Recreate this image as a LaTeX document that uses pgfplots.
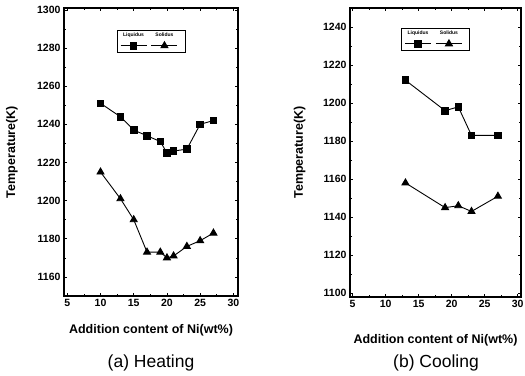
\documentclass[border=0pt]{standalone}
\usepackage{pgfplots}
\pgfplotsset{compat=1.18}
\usepackage{fontspec}
\setmainfont{Liberation Sans}
\pgfplotsset{
  myaxis/.style={
    scale only axis,
    axis line style={line width=1.1bp},
    tick style={line width=0.7bp, black},
    tick align=inside,
    major tick length=3bp, minor tick length=1.8bp,
    minor tick num=1,
    xtick={5,10,...,30},
    tick label style={font=\fontsize{10.5bp}{12bp}\selectfont\bfseries},
    /pgf/number format/assume math mode=true,
    /pgf/number format/set thousands separator={},
    label style={font=\fontsize{12.5bp}{14bp}\selectfont\bfseries},
    legend columns=2,
    legend style={draw=black, line width=0.6bp, inner xsep=3bp, inner ysep=3bp,
      column sep=3bp, nodes={inner sep=0pt}, /tikz/every even column/.style={column sep=0pt}},
    legend cell align=center,
    every axis plot/.append style={line width=0.9bp, black},
  },
  liq/.style={mark=square*, mark size=3.3bp, mark options={solid, fill=black},
    legend image code/.code={
      \draw[mark repeat=2,mark phase=2] plot coordinates {(0bp,0bp)(13bp,0bp)(26bp,0bp)};
      \node[draw=none, fill=none, inner sep=0pt, anchor=south, font=\fontsize{5bp}{6bp}\selectfont\bfseries] at (13bp,7bp) {Liquidus};
    }},
  sol/.style={mark=triangle*, mark size=4bp, mark options={solid, fill=black},
    legend image code/.code={
      \draw[mark repeat=2,mark phase=2] plot coordinates {(0bp,0bp)(13bp,0bp)(26bp,0bp)};
      \node[draw=none, fill=none, inner sep=0pt, anchor=south, font=\fontsize{5bp}{6bp}\selectfont\bfseries] at (13bp,7bp) {Solidus};
    }},
}
\begin{document}
\begin{tikzpicture}[x=1bp,y=1bp]
\useasboundingbox (0,0) rectangle (525,375);
% (a) Heating
\begin{axis}[myaxis,
  at={(64bp,79bp)}, anchor=south west,
  width=174bp, height=288bp,
  xmin=4.5, xmax=30.7, ymin=1150, ymax=1301,
  ytick={1160,1180,...,1300},
  xlabel={Addition content of Ni(wt\%)},
  ylabel={Temperature(K)},
  xlabel style={at={(axis description cs:0.5,-0.118)}, anchor=center},
  ylabel style={at={(axis description cs:-0.299,0.5)}, anchor=center},
  legend style={at={(axis description cs:0.5,0.924)}, anchor=north},
]
\addplot[liq] coordinates {(10,1251)(13,1244)(15,1237)(17,1234)(19,1231)(20,1225)(21,1226)(23,1227)(25,1240)(27,1242)};
\addlegendentry{}
\addplot[sol] coordinates {(10,1215)(13,1201)(15,1190)(17,1173)(19,1173)(20,1170)(21,1171)(23,1176)(25,1179)(27,1183)};
\addlegendentry{}
\end{axis}
% (b) Cooling
\begin{axis}[myaxis,
  at={(350bp,78bp)}, anchor=south west,
  width=171bp, height=289bp,
  xmin=4.6, xmax=30.5, ymin=1098, ymax=1250,
  ytick={1100,1120,...,1240},
  xlabel={Addition content of Ni(wt\%)},
  ylabel={Temperature(K)},
  xlabel style={at={(axis description cs:0.5,-0.149)}, anchor=center},
  ylabel style={at={(axis description cs:-0.295,0.5)}, anchor=center},
  legend style={at={(axis description cs:0.5,0.931)}, anchor=north},
]
\addplot[liq] coordinates {(13,1212)(19,1196)(21,1198)(23,1183)(27,1183)};
\addlegendentry{}
\addplot[sol] coordinates {(13,1158)(19,1145)(21,1146)(23,1143)(27,1151)};
\addlegendentry{}
\end{axis}
\node[font=\fontsize{17.5bp}{20bp}\selectfont] at (151,12) {(a) Heating};
\node[font=\fontsize{17.5bp}{20bp}\selectfont] at (436,12) {(b) Cooling};
\end{tikzpicture}
\end{document}
